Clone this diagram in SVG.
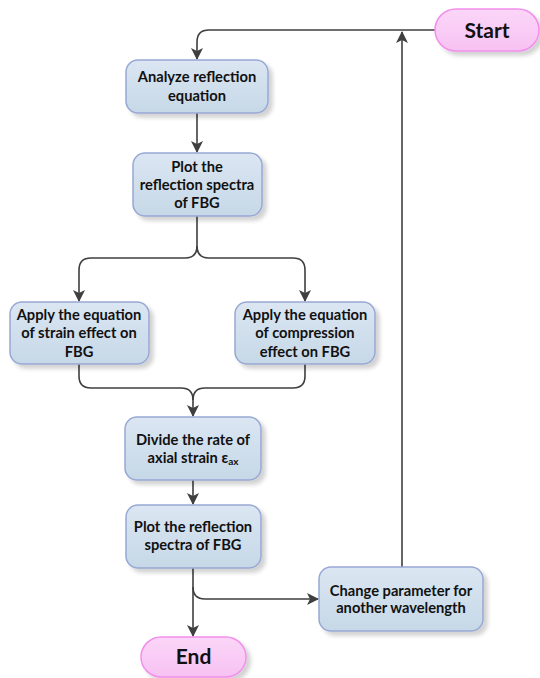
<svg xmlns="http://www.w3.org/2000/svg" width="540" height="678" viewBox="0 0 540 678">
<defs>
<linearGradient id="gBox" x1="0" y1="0" x2="0" y2="1">
<stop offset="0" stop-color="#dbe6f2"/>
<stop offset="1" stop-color="#c6d8e7"/>
</linearGradient>
<linearGradient id="gPill" x1="0" y1="0" x2="0" y2="1">
<stop offset="0" stop-color="#fbd6f8"/>
<stop offset="1" stop-color="#f7c2f2"/>
</linearGradient>
<filter id="sh" x="-20%" y="-20%" width="150%" height="160%">
<feGaussianBlur in="SourceAlpha" stdDeviation="2"/>
<feOffset dx="4" dy="4" result="b"/>
<feComponentTransfer><feFuncA type="linear" slope="0.18"/></feComponentTransfer>
<feMerge><feMergeNode/><feMergeNode in="SourceGraphic"/></feMerge>
</filter>
<marker id="arr" markerUnits="userSpaceOnUse" markerWidth="14" markerHeight="14" refX="11" refY="6" orient="auto">
<path d="M0,0 L12,6 L0,12 L3,6 Z" fill="#3f3f3f"/>
</marker>
<style>
.box{fill:url(#gBox);stroke:#98a8d4;stroke-width:1.5;filter:url(#sh)}
.pill{fill:url(#gPill);stroke:#f28fec;stroke-width:1.5;filter:url(#sh)}
.t{font-family:Lato,"Open Sans","Liberation Sans",sans-serif;font-weight:bold;font-size:14.7px;fill:#111;text-anchor:middle}
.tl{font-family:Lato,"Open Sans","Liberation Sans",sans-serif;font-weight:bold;font-size:21px;fill:#111;text-anchor:middle}
.c{fill:none;stroke:#3f3f3f;stroke-width:1.6}
.ca{fill:none;stroke:#3f3f3f;stroke-width:1.6;marker-end:url(#arr)}
</style>
</defs>
<g id="connectors">
<path class="ca" d="M435,30 H209 Q197,30 197,42 V59"/>
<path class="ca" d="M197,113 V152"/>
<path class="c" d="M197,216 V246"/>
<path class="ca" d="M197,246 Q197,258 185,258 H91 Q79,258 79,270 V301"/>
<path class="ca" d="M197,246 Q197,258 209,258 H293 Q305,258 305,270 V301"/>
<path class="c" d="M79,364 V376 Q79,388 91,388 H181 Q193,388 193,400"/>
<path class="ca" d="M305,364 V376 Q305,388 293,388 H205 Q193,388 193,400 V416"/>
<path class="ca" d="M193,480 V504"/>
<path class="ca" d="M193,568 V636"/>
<path class="ca" d="M193,587 Q193,599 205,599 H318"/>
<path class="ca" d="M402,567 V32"/>
</g>
<g id="start">
<rect class="pill" x="435" y="9" width="104" height="42" rx="21"/>
<text class="tl" x="487" y="37.5">Start</text>
</g>
<g id="analyze">
<rect class="box" x="126" y="60" width="142" height="53" rx="12"/>
<text class="t" x="197" y="82">Analyze reflection</text>
<text class="t" x="197" y="101">equation</text>
</g>
<g id="plot1">
<rect class="box" x="133" y="153" width="129" height="63" rx="12"/>
<text class="t" x="197" y="172">Plot the</text>
<text class="t" x="197" y="190">reflection spectra</text>
<text class="t" x="197" y="208">of FBG</text>
</g>
<g id="apply-strain">
<rect class="box" x="10" y="302" width="139" height="62" rx="12"/>
<text class="t" x="79" y="320">Apply the equation</text>
<text class="t" x="79" y="338">of strain effect on</text>
<text class="t" x="79" y="357">FBG</text>
</g>
<g id="apply-compression">
<rect class="box" x="235" y="302" width="140" height="62" rx="12"/>
<text class="t" x="305" y="320">Apply the equation</text>
<text class="t" x="305" y="338">of compression</text>
<text class="t" x="305" y="357">effect on FBG</text>
</g>
<g id="divide">
<rect class="box" x="125" y="417" width="136" height="63" rx="12"/>
<text class="t" x="193" y="445">Divide the rate of</text>
<text class="t" x="193" y="463">axial strain ε<tspan font-size="10" dy="2">ax</tspan></text>
</g>
<g id="plot2">
<rect class="box" x="126" y="505" width="135" height="63" rx="12"/>
<text class="t" x="193" y="532">Plot the reflection</text>
<text class="t" x="193" y="550">spectra of FBG</text>
</g>
<g id="change">
<rect class="box" x="319" y="567" width="164" height="64" rx="12"/>
<text class="t" x="401" y="596">Change parameter for</text>
<text class="t" x="401" y="613">another wavelength</text>
</g>
<g id="end">
<rect class="pill" x="141" y="637" width="105" height="40" rx="20"/>
<text class="tl" x="193.5" y="664">End</text>
</g>
</svg>
